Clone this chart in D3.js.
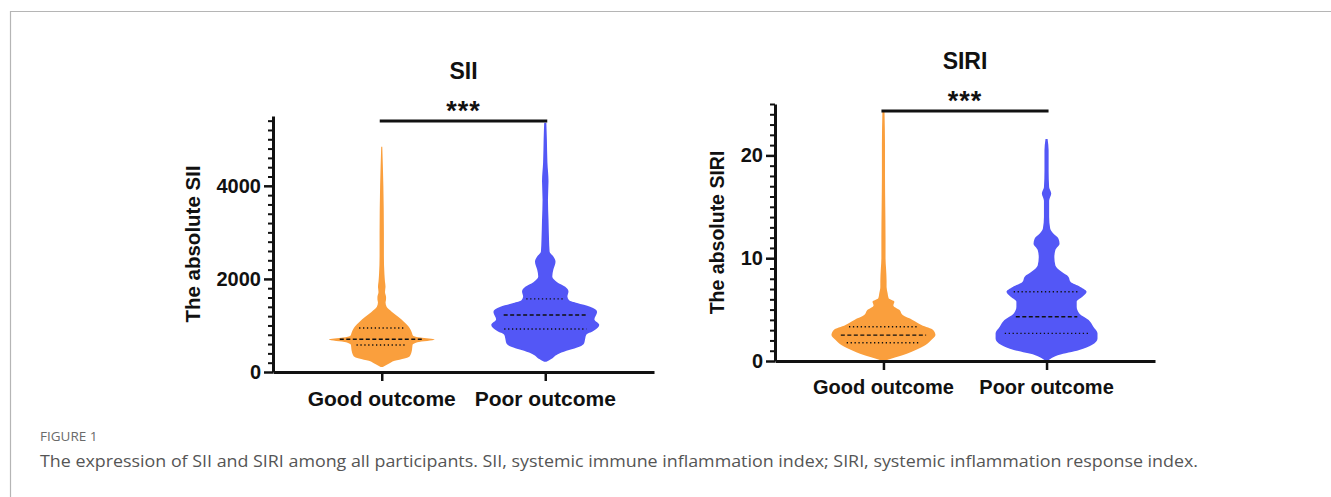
<!DOCTYPE html>
<html>
<head>
<meta charset="utf-8">
<script src="https://cdn.jsdelivr.net/npm/d3@7"></script>
<style>
  html, body { margin: 0; padding: 0; background: #fff; }
  svg { display: block; }
</style>
</head>
<body>
<div id="fig"></div>
<script>
// categories
const groups = ["Good outcome", "Poor outcome"];

// colours
const colors = {
  good: "#FA9F3D",   // orange
  poor: "#5357F6",   // blue
  ink: "#111111",
  frame: "#b5b5b5",
  caption: "#555555"
};

// SII violins: [value, relative density 0-100]
const siiGood = [
  [107, 2], [170, 12], [240, 24], [290, 42], [340, 52], [470, 56], [580, 57], [640, 66],
  [700, 98], [740, 72], [780, 58], [840, 56], [970, 50], [1080, 41], [1180, 31],
  [1290, 19], [1400, 9], [1500, 7], [1560, 8], [1610, 8], [1720, 6], [1830, 7],
  [1940, 6], [2100, 5], [2500, 4], [3000, 4], [4000, 3], [4840, 1]
];
const siiPoor = [
  [220, 2], [280, 11], [400, 26], [470, 44], [540, 63], [620, 72], [720, 74], [800, 76],
  [880, 89], [1010, 100], [1133, 91], [1290, 96], [1400, 83], [1480, 59], [1540, 44],
  [1620, 41], [1730, 43], [1830, 37], [1930, 22], [2050, 13], [2200, 15], [2370, 19],
  [2480, 15], [2590, 8], [2840, 7], [3270, 6], [3700, 5], [4100, 6], [4500, 4],
  [5000, 3], [5355, 2]
];
// quartiles [q1, median, q3]
const siiQuart = [[580, 705, 946], [925, 1225, 1570]];
const siiTicks = [0, 2000, 4000];
const siiMax = 5500;

// SIRI violins
const siriGood = [
  [0.05, 4], [0.3, 19], [0.58, 38], [1.07, 62], [1.55, 81], [2.04, 92], [2.52, 100],
  [3.0, 96], [3.5, 73], [4.0, 56], [4.47, 37], [4.95, 31], [5.4, 19], [5.76, 21],
  [6.1, 10], [6.6, 8], [7.2, 6], [7.8, 6], [9, 5], [10, 4], [12, 4], [15, 3.5],
  [18, 3], [21, 3], [24.3, 2]
];
const siriPoor = [
  [0.03, 2], [0.3, 10], [0.58, 23], [1.07, 63], [1.55, 87], [2.2, 98], [2.69, 98],
  [3.33, 90], [3.98, 81], [4.63, 63], [5.27, 58], [5.76, 58], [6.24, 69], [6.73, 77],
  [7.2, 65], [7.7, 46], [8.2, 42], [8.67, 29], [9.3, 17], [10.1, 15], [10.8, 17],
  [11.4, 25], [11.9, 23], [12.4, 13], [12.9, 7], [14, 5], [15.6, 5], [16.3, 9],
  [16.9, 5], [18.5, 4], [20.5, 4], [21.6, 2]
];
const siriQuart = [[1.78, 2.52, 3.33], [2.69, 4.3, 6.73]];
const siriTicks = [0, 10, 20];
const siriMax = 25;

const captionLabel = "FIGURE 1";
const captionText = "The expression of SII and SIRI among all participants. SII, systemic immune inflammation index; SIRI, systemic inflammation response index.";

// <----------------------------------------------------------------------------------->
const W = 1331, H = 497;
const svg = d3.select("#fig").append("svg")
  .attr("width", W)
  .attr("height", H)
  .style("font-family", "'Liberation Sans', Arial, sans-serif");

svg.append("rect").attr("width", W).attr("height", H).attr("fill", "#fff");

// frame round the figure
svg.append("path")
  .attr("d", `M10.5,${H} V11.5 H${W}`)
  .attr("fill", "none")
  .attr("stroke", colors.frame)
  .attr("stroke-width", 1.2);

// panels
const panels = [
  {
    title: "SII", ylabel: "The absolute SII",
    profiles: [siiGood, siiPoor], quart: siiQuart, ticks: siiTicks, max: siiMax, minorStep: 200,
    left: 273, right: 654, bottom: 372, top: 116, halfW: 54,
    titleY: 79, starY: 120, barY: 121, xlabY: 406, ylabX: 200, fs: 20.5
  },
  {
    title: "SIRI", ylabel: "The absolute SIRI",
    profiles: [siriGood, siriPoor], quart: siriQuart, ticks: siriTicks, max: siriMax, minorStep: 1,
    left: 775, right: 1155, bottom: 361, top: 104, halfW: 52,
    titleY: 69, starY: 110, barY: 111, xlabY: 394, ylabX: 724, fs: 19.5
  }
];

panels.forEach(p => {
  const g = svg.append("g");

  const y = d3.scaleLinear().domain([0, p.max]).range([p.bottom, p.top]);
  const x = d3.scalePoint().domain(groups).range([p.left, p.right]).padding(0.665);
  const w = d3.scaleLinear().domain([0, 100]).range([0, p.halfW]);

  // violins
  p.profiles.forEach((prof, i) => {
    const cx = x(groups[i]);
    const fill = i === 0 ? colors.good : colors.poor;
    const area = d3.area()
      .curve(d3.curveMonotoneY)
      .y(d => y(d[0]))
      .x0(d => cx - w(d[1]))
      .x1(d => cx + w(d[1]));
    g.append("path")
      .datum(prof)
      .attr("d", area)
      .attr("fill", fill);

    // quartile lines, length follows the violin width at that value
    const dens = d3.scaleLinear().domain(prof.map(d => d[0])).range(prof.map(d => d[1]));
    p.quart[i].forEach((q, k) => {
      const hw = w(dens(q)) * 0.82;
      g.append("line")
        .attr("x1", cx - hw).attr("x2", cx + hw)
        .attr("y1", y(q)).attr("y2", y(q))
        .attr("stroke", colors.ink)
        .attr("stroke-width", 1.4)
        .attr("stroke-dasharray", k === 1 ? "4,2.5" : "1.3,2.6");
    });
  });

  // y axis: minor then major ticks
  const minor = d3.range(0, p.max + 1e-9, p.minorStep).filter(v => !p.ticks.includes(v));
  g.append("g")
    .attr("transform", `translate(${p.left},0)`)
    .call(d3.axisLeft(y).tickValues(minor).tickSize(5).tickFormat(""))
    .call(a => a.select(".domain").remove())
    .call(a => a.selectAll("line").attr("stroke", colors.ink).attr("stroke-width", 2));

  g.append("g")
    .attr("transform", `translate(${p.left},0)`)
    .call(d3.axisLeft(y).tickValues(p.ticks).tickFormat(d3.format("d"))
      .tickSize(9).tickSizeOuter(0).tickPadding(3))
    .call(a => a.select(".domain").attr("stroke", colors.ink).attr("stroke-width", 3))
    .call(a => a.selectAll("line").attr("stroke", colors.ink).attr("stroke-width", 2.5))
    .call(a => a.selectAll("text")
      .attr("fill", colors.ink)
      .style("font-family", "'Liberation Sans', Arial, sans-serif")
      .style("font-size", "20px")
      .style("font-weight", "bold"));

  // x axis
  g.append("g")
    .attr("transform", `translate(0,${p.bottom})`)
    .call(d3.axisBottom(x).tickSize(9).tickSizeOuter(0).tickFormat(""))
    .call(a => a.select(".domain").attr("stroke", colors.ink).attr("stroke-width", 3))
    .call(a => a.selectAll("line").attr("stroke", colors.ink).attr("stroke-width", 2.5));

  // category labels
  g.selectAll(".xlab")
    .data(groups)
    .enter()
    .append("text")
    .attr("class", "xlab")
    .attr("x", d => x(d))
    .attr("y", p.xlabY)
    .attr("text-anchor", "middle")
    .attr("fill", colors.ink)
    .style("font-size", (p.fs + 0.5) + "px")
    .style("font-weight", "bold")
    .text(d => d);

  // y label
  g.append("text")
    .attr("transform", `translate(${p.ylabX},${(p.bottom + p.top) / 2}) rotate(-90)`)
    .attr("text-anchor", "middle")
    .attr("fill", colors.ink)
    .style("font-size", p.fs + "px")
    .style("font-weight", "bold")
    .text(p.ylabel);

  // title
  const mid = (x(groups[0]) + x(groups[1])) / 2;
  g.append("text")
    .attr("x", mid)
    .attr("y", p.titleY)
    .attr("text-anchor", "middle")
    .attr("fill", colors.ink)
    .style("font-size", "23px")
    .style("font-weight", "bold")
    .text(p.title);

  // significance bar
  g.append("line")
    .attr("x1", x(groups[0]) - 2).attr("x2", x(groups[1]) + 2)
    .attr("y1", p.barY).attr("y2", p.barY)
    .attr("stroke", colors.ink)
    .attr("stroke-width", 3);

  g.append("text")
    .attr("x", mid)
    .attr("y", p.starY)
    .attr("text-anchor", "middle")
    .attr("fill", colors.ink)
    .style("font-size", "27px")
    .style("font-weight", "bold")
    .style("letter-spacing", "1px")
    .text("***");
});

// caption
svg.append("text")
  .attr("x", 40)
  .attr("y", 441)
  .attr("fill", "#6a6a6a")
  .style("font-family", "'Open Sans', sans-serif")
  .style("font-size", "13.5px")
  .text(captionLabel);

svg.append("text")
  .attr("x", 40)
  .attr("y", 467)
  .attr("fill", colors.caption)
  .attr("textLength", 1158)
  .attr("lengthAdjust", "spacingAndGlyphs")
  .style("font-family", "'Open Sans', sans-serif")
  .style("font-size", "16px")
  .text(captionText);
</script>
</body>
</html>
